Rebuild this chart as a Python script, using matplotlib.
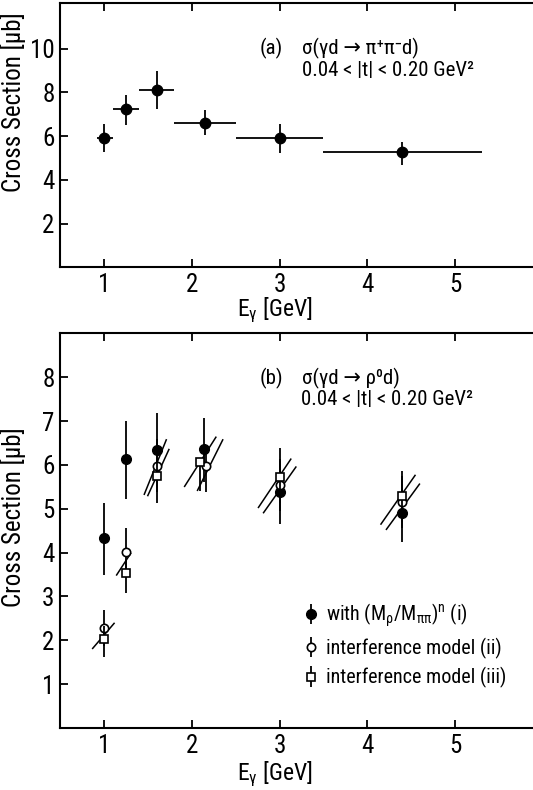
import matplotlib
matplotlib.use("Agg")
import matplotlib.pyplot as plt
from matplotlib import font_manager as fm
import numpy as np

names = {f.name for f in fm.fontManager.ttflist}
FONT = "DejaVu Sans"
for cand in ["Liberation Sans Narrow", "DejaVu Sans Condensed", "Roboto Condensed",
             "Open Sans Condensed", "Roboto", "Liberation Sans"]:
    if cand in names:
        FONT = cand
        break
plt.rcParams["font.family"] = [FONT, "DejaVu Sans"]
plt.rcParams["mathtext.default"] = "regular"
plt.rcParams["mathtext.fontset"] = "custom"
plt.rcParams["mathtext.rm"] = FONT
plt.rcParams["mathtext.it"] = FONT

# ---------------- data: panel (a) ----------------
a_E = np.array([1.0, 1.25, 1.6, 2.15, 3.0, 4.4])
a_bin_lo = np.array([0.92, 1.1, 1.4, 1.8, 2.5, 3.5])
a_bin_hi = np.array([1.1, 1.4, 1.8, 2.5, 3.5, 5.3])
a_sigma = np.array([5.92, 7.24, 8.13, 6.61, 5.92, 5.25])
a_err_lo = np.array([0.63, 0.73, 0.89, 0.55, 0.70, 0.56])
a_err_hi = np.array([0.62, 0.66, 0.84, 0.58, 0.62, 0.50])

# ---------------- data: panel (b) ----------------
b1_E = np.array([1.0, 1.25, 1.6, 2.14, 3.0, 4.4])
b1_sigma = np.array([4.33, 6.13, 6.33, 6.36, 5.37, 4.91])
b1_err_lo = np.array([0.84, 0.91, 0.85, 0.75, 0.72, 0.66])
b1_err_hi = np.array([0.79, 0.86, 0.85, 0.71, 0.72, 0.66])

b2_E = np.array([1.0, 1.25, 1.6, 2.16, 3.0, 4.4])
b2_sigma = np.array([2.28, 4.02, 5.98, 5.98, 5.54, 5.15])
b2_err_lo = np.array([0.40, 0.50, 0.60, 0.60, 0.60, 0.60])
b2_err_hi = np.array([0.41, 0.53, 0.60, 0.30, 0.60, 0.60])

b3_E = np.array([1.0, 1.25, 1.6, 2.09, 3.0, 4.4])
b3_sigma = np.array([2.03, 3.53, 5.75, 6.06, 5.73, 5.29])
b3_err_lo = np.array([0.40, 0.45, 0.61, 0.65, 0.60, 0.60])
b3_err_hi = np.array([0.30, 0.30, 0.30, 0.00, 0.65, 0.58])

# slanted band lines (start/end in data units)
band_x0 = [0.872, 1.145, 1.46, 1.50, 1.919, 2.066, 2.760, 2.818, 4.155, 4.217]
band_x1 = [1.116, 1.304, 1.71, 1.74, 2.275, 2.353, 3.128, 3.186, 4.543, 4.593]
band_y0 = [1.815, 3.49, 5.33, 5.30, 5.51, 5.42, 5.03, 4.91, 4.65, 4.53]
band_y1 = [2.386, 3.98, 6.57, 6.35, 6.63, 6.57, 6.13, 5.95, 5.76, 5.56]

xticks = [1, 2, 3, 4, 5]
a_yticks = [2, 4, 6, 8, 10]
b_yticks = [1, 2, 3, 4, 5, 6, 7, 8]

W, H = 533, 790
fig = plt.figure(figsize=(W / 100, H / 100), dpi=100)

def style(ax):
    for s in ax.spines.values():
        s.set_linewidth(1.5)
    ax.tick_params(direction="in", top=True, right=True, length=6, width=1.3,
                   labelsize=18, pad=4)
    ax.set_xticks(xticks)

# ---------- panel (a) ----------
axa = fig.add_axes([60 / W, 1 - 267.3 / H, 483 / W, (267.3 - 2.7) / H])
axa.errorbar(a_E, a_sigma, yerr=[a_err_lo, a_err_hi],
             xerr=[a_E - a_bin_lo, a_bin_hi - a_E], fmt="o", color="black",
             ms=7.5, elinewidth=1.3, capsize=0)
axa.set_xlim(0.5, 6.0)
axa.set_ylim(0, 12.1)
axa.set_yticks(a_yticks)
style(axa)
axa.set_xlabel(r"E$_\gamma$ [GeV]", fontsize=17)
axa.xaxis.set_label_coords(0.445, -0.108)
axa.set_ylabel("Cross Section [\u03bcb]", fontsize=18)
axa.yaxis.set_label_coords(-0.07, 0.625)
axa.text(2.77, 10.0, "(a)", fontsize=15, va="center")
axa.text(3.25, 10.0, "\u03c3(\u03b3d \u2192 \u03c0\u207a\u03c0\u207bd)", fontsize=15, va="center")
axa.text(3.25, 9.0, "0.04 < |t| < 0.20 GeV\u00b2", fontsize=15, va="center")

# ---------- panel (b) ----------
axb = fig.add_axes([60 / W, 1 - 728 / H, 483 / W, (728 - 333.3) / H])
for x0, x1, y0, y1 in zip(band_x0, band_x1, band_y0, band_y1):
    axb.plot([x0, x1], [y0, y1], color="black", lw=1.1, zorder=2)
h1 = axb.errorbar(b1_E, b1_sigma, yerr=[b1_err_lo, b1_err_hi], fmt="o",
                  color="black", ms=7, elinewidth=1.3, capsize=0, zorder=3)
h2 = axb.errorbar(b2_E, b2_sigma, yerr=[b2_err_lo, b2_err_hi], fmt="o",
                  color="black", mfc="white", mec="black", mew=1.2, ms=6,
                  elinewidth=1.3, capsize=0, zorder=4)
h3 = axb.errorbar(b3_E, b3_sigma, yerr=[b3_err_lo, b3_err_hi], fmt="s",
                  color="black", mfc="white", mec="black", mew=1.2, ms=5.5,
                  elinewidth=1.3, capsize=0, zorder=5)
axb.set_xlim(0.5, 6.0)
axb.set_ylim(0, 9.0)
axb.set_yticks(b_yticks)
style(axb)
axb.set_xlabel(r"E$_\gamma$ [GeV]", fontsize=17)
axb.xaxis.set_label_coords(0.445, -0.08)
axb.set_ylabel("Cross Section [\u03bcb]", fontsize=18)
axb.yaxis.set_label_coords(-0.07, 0.535)
axb.text(2.77, 7.98, "(b)", fontsize=15, va="center")
axb.text(3.26, 7.98, "\u03c3(\u03b3d \u2192 \u03c1\u2070d)", fontsize=15, va="center")
axb.text(3.24, 7.48, "0.04 < |t| < 0.20 GeV\u00b2", fontsize=15, va="center")
axb.legend([h1, h2, h3],
           [r"with (M$_\rho$/M$_{\pi\pi}$)$^n$ (i)",
            "interference model (ii)", "interference model (iii)"],
           loc="upper left", bbox_to_anchor=(0.51, 0.32), frameon=False,
           fontsize=14.5, handlelength=0.5, handletextpad=0.5, labelspacing=0.42,
           borderpad=0, borderaxespad=0)

fig.savefig("out.png", dpi=100)
